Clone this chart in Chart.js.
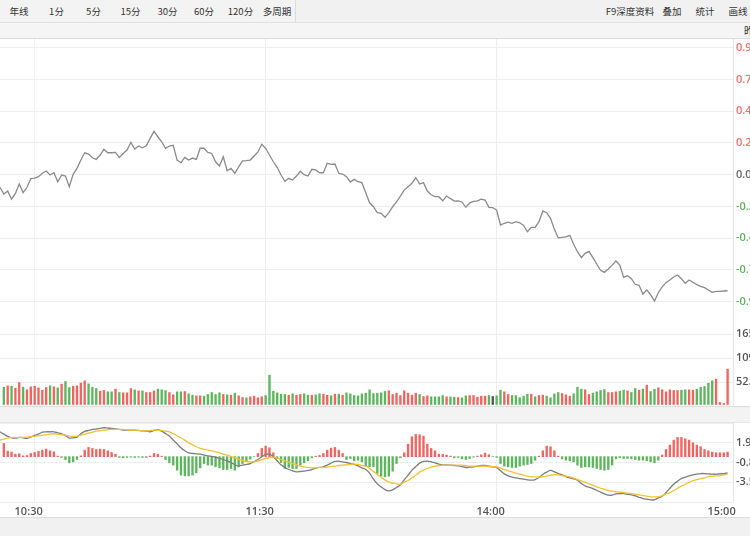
<!DOCTYPE html>
<html>
<head>
<meta charset="utf-8">
<script src="https://cdn.jsdelivr.net/npm/chart.js@4.4.1/dist/chart.umd.min.js"></script>
<style>
html,body{margin:0;padding:0;background:#fff;width:750px;height:536px;overflow:hidden;
  font-family:"Noto Sans CJK SC","Noto Sans",sans-serif;}
.abs{position:absolute;}
#tb1{left:0;top:0;width:750px;height:23px;background:#f1f1f1;border-bottom:1px solid #e2e2e2;box-sizing:border-box;}
.btn{position:absolute;top:0;height:22px;line-height:22px;text-align:center;font-size:9.5px;color:#333;
  border-right:1px solid #dcdcdc;box-sizing:border-box;background:#f3f3f3;}
.rt{position:absolute;top:0;height:22px;line-height:22px;font-size:9.5px;color:#333;white-space:nowrap;transform:translateX(-50%);}
#tb2{left:0;top:23px;width:750px;height:16px;background:#f5f5f5;border-bottom:1px solid #dadada;box-sizing:border-box;}
#sep{left:0;top:406px;width:750px;height:17px;background:#f3f3f3;border-top:1px solid #dcdcdc;border-bottom:1px solid #e4e4e4;box-sizing:border-box;}
#bot{left:0;top:517px;width:750px;height:19px;background:#f1f1f1;border-top:1px solid #dcdcdc;box-sizing:border-box;}
canvas{position:absolute;left:0;}
</style>
</head>
<body>
<div id="tb1" class="abs"></div>
<div id="tb2" class="abs"><span style="position:absolute;left:744px;top:0;font-size:10px;line-height:15px;color:#333;">昨</span></div>
<canvas id="cPrice" width="750" height="279" style="top:39px"></canvas>
<canvas id="cVol" width="750" height="88" style="top:318px"></canvas>
<div id="sep" class="abs"></div>
<canvas id="cMacd" width="750" height="95" style="top:422px"></canvas>
<div id="bot" class="abs"></div>
<script>
// ---------------- toolbar text ----------------
const periodButtons = ['年线','1分','5分','15分','30分','60分','120分','多周期'];
const buttonEdges = [0,38,75,112,149,186,222,259,295];
const rightTools = ['F9深度资料','叠加','统计','画线'];
const rightToolCenters = [630,672,705,738];

// ---------------- data (minute index = trading minutes since 9:30; 11:30 = 13:00 = 120) ----------------
const firstMinute = 51;       // first price / MACD-line point
const volFirstMinute = 52;    // first volume / histogram bar
const tickMinutes = [60,120,180,240];
const timeLabels = ['10:30','11:30','14:00','15:00'];
const priceTicks = [0.96,0.72,0.48,0.24,0,-0.24,-0.48,-0.72,-0.96];
const volumeTicks = [165.6,109.2,52.8];
const macdTicks = [4.6,1.9,-0.8,-3.5,-6.2];

// price change in %
const pricePct = [
  -0.095,-0.146,-0.123,-0.184,-0.141,-0.070,-0.136,-0.095,-0.030,
  -0.025,-0.015,0.011,0.028,-0.002,0.015,-0.053,-0.002,-0.010,-0.091,
  0.003,0.048,0.111,0.166,0.156,0.128,0.116,0.149,0.192,0.166,
  0.166,0.169,0.131,0.161,0.187,0.245,0.194,0.217,0.204,0.219,
  0.275,0.328,0.287,0.249,0.200,0.217,0.222,0.111,0.091,0.131,
  0.111,0.126,0.116,0.200,0.200,0.169,0.161,0.098,0.066,0.136,
  0.030,0.048,0.011,0.060,0.104,0.106,0.111,0.141,0.172,0.230,
  0.200,0.149,0.098,0.056,-0.002,-0.050,-0.027,-0.040,-0.010,0.026,
  0.000,-0.010,0.041,0.036,0.015,0.015,0.086,0.079,0.081,0.011,
  0.005,-0.015,-0.055,-0.035,-0.053,-0.060,-0.136,-0.212,-0.242,-0.287,
  -0.292,-0.322,-0.287,-0.242,-0.206,-0.161,-0.116,-0.091,-0.065,-0.023,
  -0.070,-0.060,-0.123,-0.151,-0.166,-0.166,-0.197,-0.161,-0.181,-0.199,
  -0.197,-0.206,-0.246,-0.212,-0.201,-0.197,-0.184,-0.191,-0.246,-0.249,
  -0.267,-0.380,-0.367,-0.358,-0.367,-0.355,-0.363,-0.383,-0.431,-0.398,
  -0.398,-0.355,-0.274,-0.287,-0.330,-0.413,-0.476,-0.473,-0.469,-0.458,
  -0.526,-0.582,-0.627,-0.594,-0.579,-0.627,-0.675,-0.723,-0.738,-0.713,
  -0.683,-0.652,-0.683,-0.776,-0.763,-0.786,-0.828,-0.836,-0.902,-0.871,
  -0.907,-0.955,-0.892,-0.847,-0.816,-0.796,-0.773,-0.758,-0.786,-0.821,
  -0.796,-0.813,-0.831,-0.844,-0.854,-0.871,-0.889,-0.881,-0.881,-0.879,
  -0.877
];

const volume = [
  40.7,43.9,43.0,38.4,51.7,40.7,34.5,41.5,
  43.0,39.2,33.7,39.9,43.9,41.5,39.2,47.8,54.0,39.9,
  43.0,43.9,50.1,55.6,48.5,40.7,37.6,31.3,32.9,29.8,
  29.8,36.0,28.2,27.4,27.4,37.6,34.5,32.1,32.1,28.2,
  28.2,32.1,36.0,34.5,32.9,28.2,22.7,29.8,29.8,30.5,
  25.0,21.9,20.4,20.4,19.6,23.5,28.2,23.5,27.4,23.5,
  22.7,21.9,26.6,20.4,16.4,15.7,18.0,19.6,15.7,18.0,
  21.1,68.9,31.3,27.4,24.3,23.5,21.9,25.0,21.9,23.5,
  25.0,21.9,21.9,22.7,25.0,24.3,21.9,20.4,24.3,24.3,
  21.9,27.4,25.0,21.1,20.4,25.0,26.6,34.5,25.8,26.6,
  27.4,30.5,32.1,23.5,26.6,21.1,32.1,26.6,21.9,26.6,
  23.5,18.8,20.4,18.0,18.0,18.0,21.1,18.0,18.0,17.2,
  16.4,15.7,20.4,21.1,21.1,17.2,19.6,19.6,21.1,18.8,
  20.4,33.7,29.8,23.5,21.1,21.1,16.4,19.6,24.3,24.3,
  18.0,21.1,21.9,19.6,15.7,25.0,28.2,25.8,22.7,19.6,
  25.0,40.7,36.0,34.5,23.5,26.6,29.8,32.9,35.2,28.2,
  28.2,29.8,31.3,33.7,32.1,28.2,37.6,33.7,36.0,45.4,
  30.5,36.0,39.2,34.5,29.8,34.5,32.9,32.9,33.7,34.5,
  34.5,33.7,36.0,40.7,42.3,50.1,55.6,59.5,4.7,2.3,
  83.0
];
// R = up minute, G = down minute, N = unchanged
const volDir = (
  'GRGRRGRR' +
  'RRRRGRGRGG' + 'RRRRGGGRRG' + 'GRGRRRGRGR' + 'RRGGGRRGGR' +
  'GGRRGGGGGR' + 'GRGRRGRRRR' + 'GGGGGGRGRR' + 'GGRGGRRGRG' +
  'RGGGGGGGGG' + 'GGRRRRRRRR' + 'GRRGGGGRGG' + 'RGGRRRRRGN' +
  'GGRRGGGGGR' + 'GRRGGGGRRR' + 'GGGRRGGGGR' + 'RRGGRGGRGR' +
  'GGRRRRRRGG' + 'RRGGGGGRRR' + 'R').split('');

const macdHist = [
  1.80,0.75,0.62,0.34,0.39,0.11,0.16,0.43,
  0.57,0.71,0.89,1.03,0.80,0.66,0.07,-0.11,-0.39,-0.84,
  -0.71,-0.39,0.11,0.89,1.26,1.12,0.98,1.03,0.98,0.80,
  0.57,0.34,-0.11,-0.16,-0.11,-0.07,-0.11,-0.07,-0.11,-0.11,
  0.07,0.43,0.34,0.07,-0.39,-0.84,-1.16,-1.85,-2.53,-2.63,
  -2.63,-2.53,-2.21,-1.53,-0.94,-1.16,-1.16,-1.39,-1.53,-1.76,
  -1.76,-1.62,-1.85,-1.39,-0.94,-0.62,-0.34,-0.02,0.43,1.12,
  1.44,1.21,0.53,-0.25,-0.80,-1.62,-1.48,-1.62,-1.62,-1.16,
  -0.84,-0.57,-0.16,0.07,0.16,0.43,0.89,1.16,1.26,0.89,
  0.43,-0.39,-0.25,-0.57,-0.48,-0.71,-1.30,-1.39,-1.39,-2.31,
  -2.67,-2.76,-2.67,-1.99,-0.94,-0.16,0.53,1.71,2.72,3.04,
  2.99,2.81,1.71,1.12,0.80,0.34,0.30,0.21,0.07,-0.16,
  -0.11,-0.30,-0.39,-0.25,-0.07,0.07,0.25,0.48,0.25,-0.02,
  -0.11,-0.94,-1.30,-1.39,-1.48,-1.48,-1.30,-1.16,-1.07,-0.94,
  -0.48,0.07,0.80,1.44,1.35,0.80,0.07,-0.30,-0.48,-0.57,
  -0.71,-1.16,-1.48,-1.39,-1.39,-1.48,-1.62,-1.76,-1.85,-1.76,
  -1.16,-0.30,-0.16,-0.25,-0.25,-0.30,-0.39,-0.48,-0.48,-0.57,
  -0.71,-0.84,-0.48,0.21,0.98,1.58,2.26,2.63,2.63,2.44,
  2.26,1.89,1.58,1.35,0.98,0.80,0.62,0.53,0.53,0.53,
  0.62
];

const macdDif = [
  3.40,3.08,2.76,2.58,2.53,2.63,2.58,2.49,2.67,
  2.90,3.08,3.36,3.40,3.40,3.40,3.26,3.13,2.90,2.53,
  2.58,2.67,3.13,3.45,3.58,3.72,3.77,3.86,3.95,3.90,
  3.86,3.81,3.72,3.63,3.63,3.63,3.63,3.58,3.54,3.49,
  3.40,3.58,3.68,3.49,3.17,2.81,2.26,1.76,1.21,0.80,
  0.53,0.43,0.39,0.34,0.21,0.11,0.02,-0.07,-0.25,-0.39,
  -0.57,-0.80,-1.12,-1.26,-1.16,-1.07,-0.94,-0.66,-0.39,-0.02,
  0.30,0.34,-0.02,-0.57,-1.12,-1.48,-1.76,-1.94,-2.08,-2.03,
  -1.99,-1.89,-1.76,-1.58,-1.48,-1.39,-1.16,-0.89,-0.66,-0.62,
  -0.71,-0.80,-0.94,-1.07,-1.26,-1.53,-1.76,-2.26,-3.08,-3.72,
  -4.13,-4.50,-4.68,-4.54,-4.22,-3.86,-3.17,-2.53,-1.85,-1.35,
  -0.89,-0.66,-0.62,-0.71,-0.84,-1.03,-1.12,-1.12,-1.16,-1.21,
  -1.26,-1.35,-1.48,-1.44,-1.39,-1.30,-1.21,-1.21,-1.30,-1.39,
  -1.48,-1.94,-2.35,-2.63,-2.81,-2.90,-2.99,-3.08,-3.17,-3.22,
  -3.13,-2.85,-2.44,-2.12,-1.89,-2.08,-2.31,-2.49,-2.72,-2.90,
  -3.04,-3.22,-3.68,-4.00,-4.18,-4.36,-4.59,-4.86,-5.09,-5.27,
  -5.27,-5.09,-5.05,-5.05,-5.14,-5.23,-5.37,-5.55,-5.73,-5.82,
  -5.91,-5.91,-5.64,-5.41,-4.91,-4.32,-3.77,-3.36,-2.99,-2.81,
  -2.63,-2.49,-2.40,-2.31,-2.31,-2.35,-2.40,-2.40,-2.35,-2.31,
  -2.21
];

const macdDea = [
  2.26,2.40,2.53,2.63,2.63,2.63,2.63,2.67,2.72,
  2.76,2.85,2.95,2.99,3.08,3.13,3.08,2.99,2.95,2.85,
  2.76,2.81,2.95,3.08,3.22,3.36,3.49,3.54,3.63,3.68,
  3.72,3.72,3.72,3.72,3.68,3.63,3.63,3.58,3.54,3.54,
  3.58,3.63,3.63,3.58,3.49,3.40,3.17,2.85,2.58,2.26,
  1.89,1.62,1.35,1.12,0.98,0.89,0.80,0.66,0.53,0.34,
  0.21,0.02,-0.16,-0.34,-0.53,-0.66,-0.71,-0.71,-0.57,-0.43,
  -0.25,-0.16,-0.07,-0.21,-0.39,-0.57,-0.75,-0.94,-1.12,-1.30,
  -1.39,-1.48,-1.53,-1.53,-1.48,-1.48,-1.44,-1.35,-1.30,-1.21,
  -1.16,-1.12,-1.07,-1.03,-1.07,-1.21,-1.30,-1.58,-2.03,-2.44,
  -2.85,-3.17,-3.49,-3.63,-3.72,-3.77,-3.49,-3.26,-2.90,-2.53,
  -2.12,-1.85,-1.62,-1.44,-1.30,-1.21,-1.16,-1.16,-1.16,-1.16,
  -1.16,-1.16,-1.21,-1.30,-1.30,-1.30,-1.30,-1.30,-1.35,-1.35,
  -1.39,-1.58,-1.76,-1.94,-2.08,-2.26,-2.40,-2.53,-2.67,-2.76,
  -2.76,-2.76,-2.76,-2.67,-2.53,-2.44,-2.49,-2.58,-2.67,-2.76,
  -2.95,-3.13,-3.31,-3.49,-3.72,-3.90,-4.13,-4.32,-4.45,-4.63,
  -4.73,-4.82,-4.86,-4.91,-5.00,-5.05,-5.14,-5.23,-5.32,-5.41,
  -5.50,-5.50,-5.50,-5.32,-5.09,-4.95,-4.63,-4.32,-4.04,-3.77,
  -3.49,-3.31,-3.13,-2.99,-2.90,-2.72,-2.67,-2.63,-2.58,-2.49,
  -2.40
];

// ---------------- toolbar build ----------------
const tb1 = document.getElementById('tb1');
periodButtons.forEach((t,i)=>{
  const d=document.createElement('div'); d.className='btn';
  d.style.left=buttonEdges[i]+'px'; d.style.width=(buttonEdges[i+1]-buttonEdges[i]+1)+'px';
  d.textContent=t; tb1.appendChild(d);
});
rightTools.forEach((t,i)=>{
  const d=document.createElement('div'); d.className='rt';
  d.style.left=rightToolCenters[i]+'px'; d.textContent=t; tb1.appendChild(d);
});

// ---------------- chart helpers ----------------
const RED='#ef6560', GREEN='#5db65d', FLAT='#555555';
const GRID='#eeeeee';
const X_MIN=51.0, X_MAX=241.4;
const AX_FONT={family:'"Open Sans","Noto Sans",sans-serif',size:11,weight:'600'};
function noPad(s){s.paddingLeft=0;s.paddingRight=0;s.paddingTop=0;s.paddingBottom=0;}
function xScale(showLabels){
  return {
    type:'linear',min:X_MIN,max:X_MAX,offset:false,
    afterBuildTicks:s=>{s.ticks=tickMinutes.map(v=>({value:v}));},
    afterFit:s=>{s.height=showLabels?15:0;noPad(s);},
    grid:{offset:false,color:c=>(c.tick&&c.tick.value===240)?'rgba(0,0,0,0)':GRID,drawTicks:false},
    border:{display:false},
    ticks:{display:showLabels,autoSkip:false,maxRotation:0,padding:3,labelOffset:-6,
      color:'#555',font:AX_FONT,callback:(v,i)=>timeLabels[i]}
  };
}
function yScale(min,max,ticks,fmt,color){
  return {
    position:'right',min:min,max:max,
    afterBuildTicks:s=>{s.ticks=ticks.map(v=>({value:v}));},
    afterFit:s=>{s.width=17;noPad(s);},
    grid:{color:GRID,drawTicks:false},
    border:{display:true,color:'#e4e4e4'},
    ticks:{padding:3,autoSkip:false,font:AX_FONT,color:color,callback:fmt}
  };
}
const baseOpts={responsive:false,animation:false,events:[],
  plugins:{legend:{display:false},tooltip:{enabled:false}},layout:{padding:0}};

// ---------------- price chart ----------------
new Chart(document.getElementById('cPrice'),{
  type:'line',
  data:{datasets:[{data:pricePct.map((v,i)=>({x:firstMinute+i,y:v})),
    borderColor:'#8a8a8a',borderWidth:1.3,pointRadius:0,tension:0}]},
  options:Object.assign({},baseOpts,{
    scales:{
      x:xScale(false),
      y:yScale(-1.083,1.026,priceTicks,v=>v.toFixed(2)+'%',
        c=>{const v=c.tick.value;return v>0.0001?'#f0706a':(v<-0.0001?'#62b062':'#666');})
    }})
});

// ---------------- volume chart ----------------
new Chart(document.getElementById('cVol'),{
  type:'bar',
  data:{datasets:[{data:volume.map((v,i)=>({x:volFirstMinute+i,y:v})),
    backgroundColor:volDir.map(d=>d==='R'?RED:(d==='G'?GREEN:FLAT)),
    barThickness:1.7,borderWidth:0}]},
  options:Object.assign({},baseOpts,{
    scales:{
      x:xScale(false),
      y:yScale(-3.5,203.2,volumeTicks,v=>v.toFixed(1),'#555')
    }})
});

// ---------------- MACD chart ----------------
new Chart(document.getElementById('cMacd'),{
  data:{datasets:[
    {type:'line',order:1,data:macdDea.map((v,i)=>({x:firstMinute+i,y:v})),
      borderColor:'#f2c232',borderWidth:1.3,pointRadius:0,tension:0.3},
    {type:'line',order:2,data:macdDif.map((v,i)=>({x:firstMinute+i,y:v})),
      borderColor:'#7d7d7d',borderWidth:1.3,pointRadius:0,tension:0.3},
    {type:'bar',order:3,data:macdHist.map((v,i)=>({x:volFirstMinute+i,y:v})),
      backgroundColor:macdHist.map(v=>v>=0?RED:GREEN),barThickness:1.7,borderWidth:0}
  ]},
  options:Object.assign({},baseOpts,{
    layout:{padding:{top:1}},
    scales:{
      x:xScale(true),
      y:yScale(-6.2,4.6,macdTicks,(v,i)=>(i===0||i===macdTicks.length-1)?'':v.toFixed(2),'#555')
    }})
});
</script>
</body>
</html>
